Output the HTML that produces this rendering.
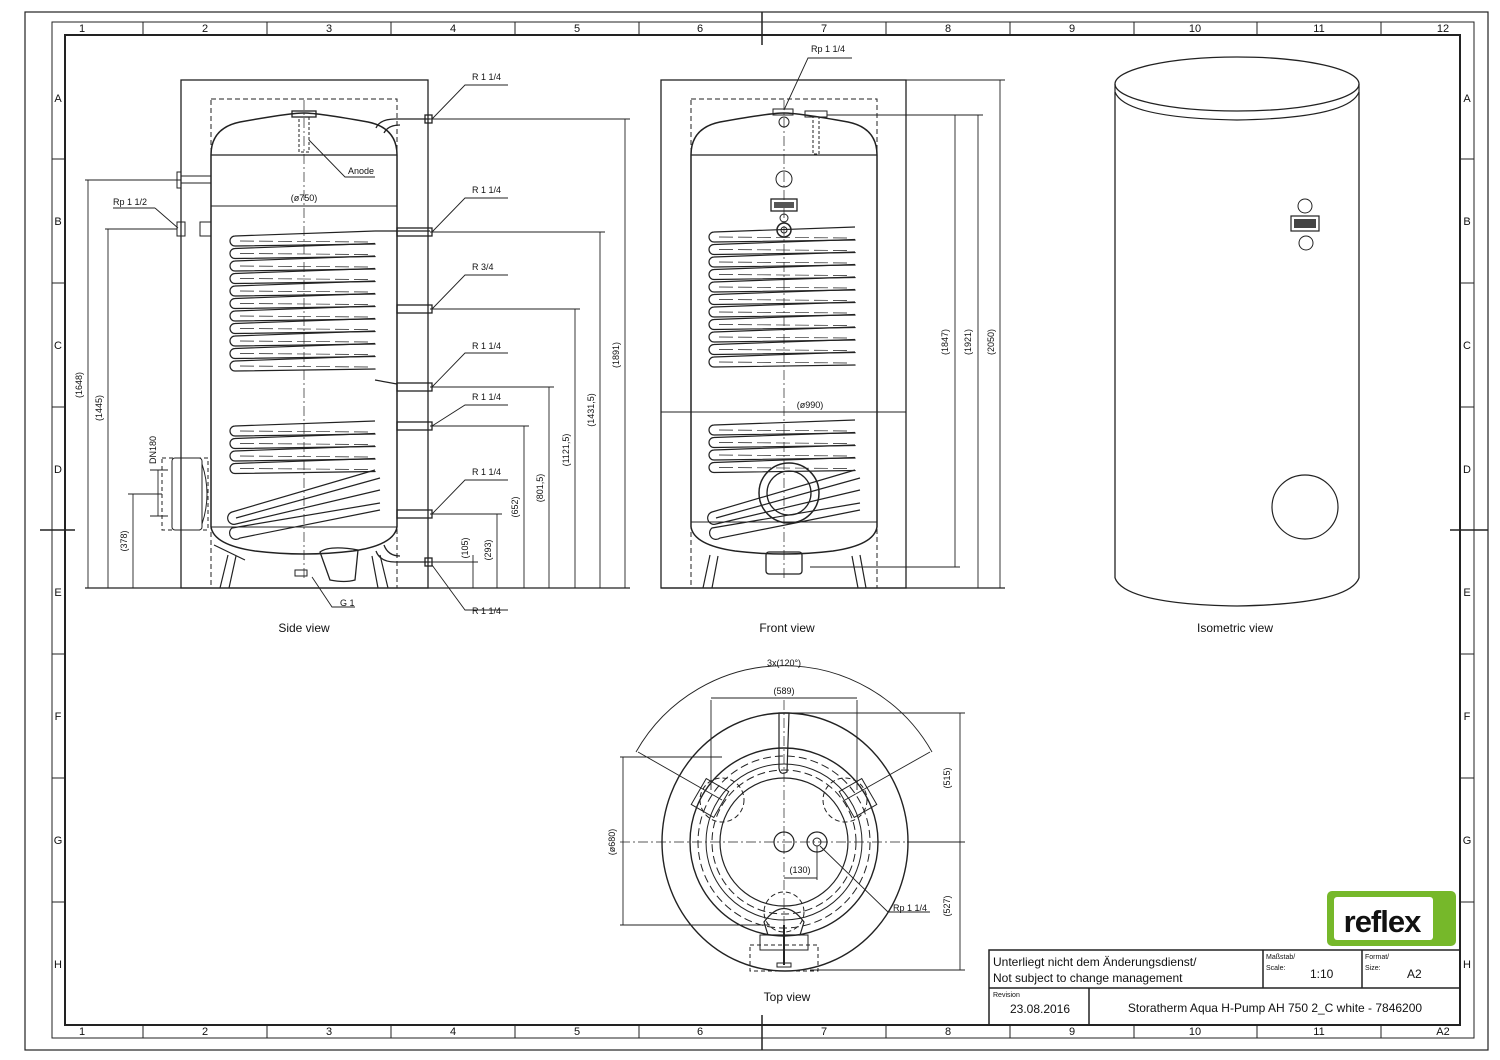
<!DOCTYPE html>
<html><head><meta charset="utf-8"><style>
html,body{margin:0;padding:0;background:#fff}
svg{display:block}
text{font-family:"Liberation Sans",sans-serif;fill:#111}
</style></head><body>
<svg id="s" width="1500" height="1060" viewBox="0 0 1500 1060" xmlns="http://www.w3.org/2000/svg" stroke="#222" fill="none" stroke-width="1">
<!-- borders -->
<rect x="25" y="12" width="1463" height="1038" stroke-width="1.2"/>
<rect x="52" y="22" width="1422" height="1016" stroke-width="1"/>
<rect x="65" y="35" width="1395" height="990" stroke-width="2"/>
<g id="grid"></g>
<g font-size="11" stroke="none">
<text x="82" y="32" text-anchor="middle">1</text><text x="205" y="32" text-anchor="middle">2</text><text x="329" y="32" text-anchor="middle">3</text><text x="453" y="32" text-anchor="middle">4</text><text x="577" y="32" text-anchor="middle">5</text><text x="700" y="32" text-anchor="middle">6</text><text x="824" y="32" text-anchor="middle">7</text><text x="948" y="32" text-anchor="middle">8</text><text x="1072" y="32" text-anchor="middle">9</text><text x="1195" y="32" text-anchor="middle">10</text><text x="1319" y="32" text-anchor="middle">11</text><text x="1443" y="32" text-anchor="middle">12</text>
<text x="82" y="1035" text-anchor="middle">1</text><text x="205" y="1035" text-anchor="middle">2</text><text x="329" y="1035" text-anchor="middle">3</text><text x="453" y="1035" text-anchor="middle">4</text><text x="577" y="1035" text-anchor="middle">5</text><text x="700" y="1035" text-anchor="middle">6</text><text x="824" y="1035" text-anchor="middle">7</text><text x="948" y="1035" text-anchor="middle">8</text><text x="1072" y="1035" text-anchor="middle">9</text><text x="1195" y="1035" text-anchor="middle">10</text><text x="1319" y="1035" text-anchor="middle">11</text><text x="1443" y="1035" text-anchor="middle">A2</text>
<text x="58" y="102" text-anchor="middle">A</text><text x="58" y="225" text-anchor="middle">B</text><text x="58" y="349" text-anchor="middle">C</text><text x="58" y="473" text-anchor="middle">D</text><text x="58" y="596" text-anchor="middle">E</text><text x="58" y="720" text-anchor="middle">F</text><text x="58" y="844" text-anchor="middle">G</text><text x="58" y="968" text-anchor="middle">H</text>
<text x="1467" y="102" text-anchor="middle">A</text><text x="1467" y="225" text-anchor="middle">B</text><text x="1467" y="349" text-anchor="middle">C</text><text x="1467" y="473" text-anchor="middle">D</text><text x="1467" y="596" text-anchor="middle">E</text><text x="1467" y="720" text-anchor="middle">F</text><text x="1467" y="844" text-anchor="middle">G</text><text x="1467" y="968" text-anchor="middle">H</text>
</g>
<!-- center marks -->
<line x1="762" y1="12" x2="762" y2="45" stroke-width="1.5"/><line x1="762" y1="1015" x2="762" y2="1050" stroke-width="1.5"/>
<line x1="40" y1="530" x2="75" y2="530" stroke-width="1.5"/><line x1="1450" y1="530" x2="1488" y2="530" stroke-width="1.5"/>

<!-- ========== SIDE VIEW ========== -->
<line x1="85" y1="588" x2="630" y2="588" stroke-width="1.2"/>
<rect x="181" y="80" width="247" height="508" stroke-width="1.3"/>
<rect x="211" y="99" width="186" height="489" stroke-dasharray="5,3"/>
<path d="M211,155 Q211,128 240,122 Q290,113 304,113 Q318,113 368,122 Q397,128 397,155" stroke-width="1.5"/>
<line x1="211" y1="155" x2="397" y2="155" stroke-width="1.3"/>
<line x1="211" y1="155" x2="211" y2="527" stroke-width="1.5"/><line x1="397" y1="155" x2="397" y2="527" stroke-width="1.5"/>
<path d="M211,527 Q214,545 255,551 Q304,557 353,551 Q394,545 397,527" stroke-width="1.5"/>
<line x1="211" y1="527" x2="397" y2="527"/>
<rect x="292" y="111" width="24" height="6" stroke-width="1.3"/>
<rect x="299" y="117" width="10" height="35" stroke-dasharray="3,2"/>
<line x1="304" y1="100" x2="304" y2="580" stroke-dasharray="10,3,2,3" stroke-width="0.7"/>
<!-- legs -->
<path d="M228,555 L220,588 M236,556 L229,588 M372,556 L378,588 M380,555 L388,588" stroke-width="1.2"/>
<path d="M214,545 L245,560" stroke-width="1.2"/>
<path d="M320,552 Q330,545 358,550 L355,580 Q345,583 330,580 Z" stroke-width="1.3"/>
<rect x="295" y="570" width="12" height="6"/>
<!-- pipes right -->
<g id="pipes" stroke-width="1.3"></g>
<path d="M376,128 Q380,119 395,119 L430,119 M384,133 Q388,125 400,125" stroke-width="1.3"/>
<path d="M384,545 Q388,556 400,556 M376,551 Q380,562 395,562 L430,562" stroke-width="1.3"/>
<!-- left fittings -->
<line x1="150" y1="180" x2="181" y2="180"/><rect x="177" y="172" width="4" height="16"/><line x1="181" y1="176" x2="211" y2="176"/><line x1="181" y1="183" x2="211" y2="183"/>
<rect x="177" y="222" width="8" height="14"/><rect x="200" y="222" width="11" height="14"/>
<rect x="172" y="458" width="30" height="72" rx="3"/>
<rect x="162" y="458" width="46" height="72" stroke-dasharray="4,3"/>
<path d="M202,464 Q212,494 202,524"/>
<!-- side coils -->
<g id="scoil" stroke-width="1.2"></g>
<!-- dims side left -->
<g stroke-width="0.9">
<line x1="85" y1="180" x2="150" y2="180"/><line x1="88" y1="180" x2="88" y2="588"/>
<line x1="105" y1="229" x2="177" y2="229"/><line x1="108" y1="229" x2="108" y2="588"/>
<line x1="128" y1="494" x2="162" y2="494"/><line x1="133" y1="494" x2="133" y2="588"/>
<line x1="150" y1="470" x2="168" y2="470"/><line x1="150" y1="516" x2="168" y2="516"/><line x1="158" y1="470" x2="158" y2="516"/>
<line x1="113" y1="208" x2="155" y2="208"/><line x1="155" y1="208" x2="178" y2="228"/>
</g>
<!-- dims side right -->
<g stroke-width="0.9">
<line x1="430" y1="119" x2="630" y2="119"/><line x1="625" y1="119" x2="625" y2="588"/>
<line x1="430" y1="232" x2="605" y2="232"/><line x1="600" y1="232" x2="600" y2="588"/>
<line x1="430" y1="309" x2="580" y2="309"/><line x1="575" y1="309" x2="575" y2="588"/>
<line x1="430" y1="387" x2="554" y2="387"/><line x1="549" y1="387" x2="549" y2="588"/>
<line x1="430" y1="426" x2="529" y2="426"/><line x1="524" y1="426" x2="524" y2="588"/>
<line x1="430" y1="514" x2="502" y2="514"/><line x1="497" y1="514" x2="497" y2="588"/>
<line x1="430" y1="562" x2="478" y2="562"/><line x1="473" y1="555" x2="473" y2="588"/>
<line x1="211" y1="206" x2="397" y2="206"/>
<!-- leaders -->
<path d="M432,119 L465,85 L508,85"/><path d="M432,232 L465,198 L508,198"/><path d="M432,309 L465,275 L508,275"/>
<path d="M432,387 L465,353 L508,353"/><path d="M432,426 L465,405 L508,405"/><path d="M432,514 L465,480 L508,480"/>
<path d="M432,565 L465,610 L508,610"/>
<path d="M309,140 L345,177 L375,177"/><path d="M312,577 L332,607 L355,607"/>
</g>
<g font-size="9" stroke="none">
<text x="472" y="80">R 1 1/4</text><text x="472" y="193">R 1 1/4</text><text x="472" y="270">R 3/4</text>
<text x="472" y="349">R 1 1/4</text><text x="472" y="400">R 1 1/4</text><text x="472" y="475">R 1 1/4</text><text x="472" y="614">R 1 1/4</text>
<text x="348" y="174">Anode</text><text x="340" y="606">G 1</text>
<text x="113" y="205">Rp 1 1/2</text>
<text x="304" y="201" text-anchor="middle">(ø750)</text>
<text transform="translate(82,385) rotate(-90)" text-anchor="middle">(1648)</text>
<text transform="translate(102,408) rotate(-90)" text-anchor="middle">(1445)</text>
<text transform="translate(127,541) rotate(-90)" text-anchor="middle">(378)</text>
<text transform="translate(156,450) rotate(-90)" text-anchor="middle">DN180</text>
<text transform="translate(619,355) rotate(-90)" text-anchor="middle">(1891)</text>
<text transform="translate(594,410) rotate(-90)" text-anchor="middle">(1431,5)</text>
<text transform="translate(569,450) rotate(-90)" text-anchor="middle">(1121,5)</text>
<text transform="translate(543,488) rotate(-90)" text-anchor="middle">(801,5)</text>
<text transform="translate(518,507) rotate(-90)" text-anchor="middle">(652)</text>
<text transform="translate(491,550) rotate(-90)" text-anchor="middle">(293)</text>
<text transform="translate(468,548) rotate(-90)" text-anchor="middle">(105)</text>
</g>
<text x="304" y="632" font-size="12" text-anchor="middle" stroke="none">Side view</text>

<!-- ========== FRONT VIEW ========== -->
<line x1="661" y1="588" x2="1005" y2="588" stroke-width="1.2"/>
<rect x="661" y="80" width="245" height="508" stroke-width="1.3"/>
<rect x="691" y="99" width="186" height="489" stroke-dasharray="5,3"/>
<path d="M691,155 Q691,128 720,122 Q770,113 784,113 Q798,113 848,122 Q877,128 877,155" stroke-width="1.5"/>
<line x1="691" y1="155" x2="877" y2="155" stroke-width="1.3"/>
<line x1="691" y1="155" x2="691" y2="527" stroke-width="1.5"/><line x1="877" y1="155" x2="877" y2="527" stroke-width="1.5"/>
<path d="M691,527 Q694,545 735,551 Q784,557 833,551 Q874,545 877,527" stroke-width="1.5"/>
<line x1="691" y1="522" x2="877" y2="522"/>
<line x1="784" y1="100" x2="784" y2="580" stroke-dasharray="10,3,2,3" stroke-width="0.7"/>
<rect x="773" y="109" width="20" height="6"/><rect x="805" y="111" width="22" height="6"/>
<rect x="813" y="117" width="6" height="37" stroke-dasharray="3,2"/>
<circle cx="784" cy="122" r="5"/>
<circle cx="784" cy="179" r="8"/>
<rect x="771" y="199" width="26" height="12" stroke-width="1.3"/><rect x="774" y="202" width="20" height="6" fill="#555" stroke="none"/>
<circle cx="784" cy="218" r="4"/><circle cx="784" cy="230" r="7" stroke-width="1.5"/><circle cx="784" cy="230" r="3"/>
<g id="fcoil" stroke-width="1.2"></g>
<circle cx="789" cy="493" r="30" stroke-width="1.5"/><circle cx="789" cy="493" r="22" stroke-width="1.3"/>
<path d="M710,555 L703,588 M718,556 L712,588 M852,556 L858,588 M860,555 L866,588" stroke-width="1.2"/>
<rect x="766" y="552" width="36" height="22" rx="3" stroke-width="1.3"/>
<g stroke-width="0.9">
<line x1="661" y1="412" x2="906" y2="412"/>
<line x1="906" y1="80" x2="1005" y2="80"/><line x1="1000" y1="80" x2="1000" y2="588"/>
<line x1="827" y1="115" x2="983" y2="115"/><line x1="978" y1="115" x2="978" y2="588"/>
<line x1="810" y1="567" x2="960" y2="567"/><line x1="955" y1="115" x2="955" y2="567"/>
<path d="M784,110 L808,58 L852,58"/>
</g>
<g font-size="9" stroke="none">
<text x="811" y="52">Rp 1 1/4</text>
<text x="810" y="408" text-anchor="middle">(ø990)</text>
<text transform="translate(948,342) rotate(-90)" text-anchor="middle">(1847)</text>
<text transform="translate(971,342) rotate(-90)" text-anchor="middle">(1921)</text>
<text transform="translate(994,342) rotate(-90)" text-anchor="middle">(2050)</text>
</g>
<text x="787" y="632" font-size="12" text-anchor="middle" stroke="none">Front view</text>

<!-- ========== ISOMETRIC ========== -->
<ellipse cx="1237" cy="84" rx="122" ry="27" stroke-width="1.3"/>
<path d="M1115,84 L1115,92 Q1125,118 1237,120 Q1349,118 1359,92 L1359,84" stroke-width="1.2"/>
<line x1="1115" y1="92" x2="1115" y2="578" stroke-width="1.3"/><line x1="1359" y1="92" x2="1359" y2="578" stroke-width="1.3"/>
<path d="M1115,578 Q1125,604 1237,606 Q1349,604 1359,578" stroke-width="1.3"/>
<circle cx="1305" cy="206" r="7"/><circle cx="1306" cy="243" r="7"/>
<rect x="1291" y="216" width="28" height="15" stroke-width="1.2"/><rect x="1294" y="219" width="22" height="9" fill="#444" stroke="none"/>
<ellipse cx="1305" cy="507" rx="33" ry="32" stroke-width="1.2"/>
<text x="1235" y="632" font-size="12" text-anchor="middle" stroke="none">Isometric view</text>

<!-- ========== TOP VIEW ========== -->
<ellipse cx="785" cy="842" rx="123" ry="129" stroke-width="1.4"/>
<circle cx="784" cy="842" r="94" stroke-width="1.4"/>
<circle cx="784" cy="842" r="86" stroke-dasharray="8,4"/>
<circle cx="784" cy="842" r="78"/>
<circle cx="784" cy="842" r="72" stroke-dasharray="8,4"/>
<circle cx="784" cy="842" r="64" stroke-width="1.2"/>
<line x1="620" y1="842" x2="960" y2="842" stroke-dasharray="10,3,2,3" stroke-width="0.7"/>
<line x1="784" y1="700" x2="784" y2="940" stroke-dasharray="10,3,2,3" stroke-width="0.7"/>
<circle cx="784" cy="842" r="10" stroke-width="1.2"/>
<circle cx="817" cy="842" r="10" stroke-width="1.2"/><circle cx="817" cy="842" r="4"/>
<path d="M779,713 L779,768 Q780,776 787,772 L789,713 Z" stroke-width="1.2"/>
<circle cx="722" cy="800" r="22" stroke-dasharray="5,3"/><circle cx="845" cy="800" r="22" stroke-dasharray="5,3"/>
<rect x="697" y="783" width="26" height="30" transform="rotate(30 710 798)"/>
<rect x="845" y="783" width="26" height="30" transform="rotate(-30 858 798)"/>
<circle cx="784" cy="912" r="20" stroke-dasharray="5,3"/>
<path d="M764,922 Q784,895 804,922 L800,935 L768,935 Z" stroke-width="1.2"/>
<rect x="760" y="935" width="48" height="15"/>
<rect x="750" y="945" width="68" height="26" stroke-dasharray="4,3"/>
<line x1="784" y1="925" x2="784" y2="965" stroke-width="2"/><rect x="777" y="963" width="14" height="4"/>
<g stroke-width="0.9">
<path d="M636,752 A170,170 0 0 1 932,752"/>
<line x1="638" y1="752" x2="722" y2="800"/><line x1="930" y1="752" x2="845" y2="800"/>
<line x1="711" y1="700" x2="711" y2="790"/><line x1="857" y1="700" x2="857" y2="790"/>
<line x1="711" y1="698" x2="857" y2="698"/>
<line x1="784" y1="713" x2="965" y2="713"/><line x1="960" y1="713" x2="960" y2="970"/>
<line x1="907" y1="842" x2="965" y2="842"/><line x1="810" y1="970" x2="965" y2="970"/>
<line x1="620" y1="757" x2="722" y2="757"/><line x1="620" y1="925" x2="770" y2="925"/><line x1="623" y1="757" x2="623" y2="925"/>
<line x1="784" y1="878" x2="817" y2="878"/><line x1="817" y1="846" x2="817" y2="880"/>
<path d="M820,846 L888,912 L930,912"/>
</g>
<g font-size="9" stroke="none">
<text x="784" y="666" text-anchor="middle">3x(120°)</text>
<text x="784" y="694" text-anchor="middle">(589)</text>
<text x="800" y="873" text-anchor="middle">(130)</text>
<text x="893" y="911">Rp 1 1/4</text>
<text transform="translate(950,778) rotate(-90)" text-anchor="middle">(515)</text>
<text transform="translate(950,906) rotate(-90)" text-anchor="middle">(527)</text>
<text transform="translate(615,842) rotate(-90)" text-anchor="middle">(ø680)</text>
</g>
<text x="787" y="1001" font-size="12" text-anchor="middle" stroke="none">Top view</text>

<!-- ========== LOGO + TITLE ========== -->
<rect x="1327" y="891" width="129" height="55" rx="5" fill="#76b82a" stroke="none"/>
<rect x="1334" y="897" width="99" height="43" rx="3" fill="#fff" stroke="none"/>
<text x="1382" y="932" font-size="31" font-weight="bold" text-anchor="middle" stroke="none" style="letter-spacing:-1px">reflex</text>
<g stroke-width="1.5">
<rect x="989" y="950" width="471" height="75"/>
<line x1="989" y1="988" x2="1460" y2="988"/>
<line x1="1263" y1="950" x2="1263" y2="988"/><line x1="1362" y1="950" x2="1362" y2="988"/>
<line x1="1089" y1="988" x2="1089" y2="1025"/>
</g>
<g stroke="none">
<text x="993" y="966" font-size="12">Unterliegt nicht dem Änderungsdienst/</text>
<text x="993" y="982" font-size="12">Not subject to change management</text>
<text x="1266" y="959" font-size="7">Maßstab/</text><text x="1266" y="970" font-size="7">Scale:</text>
<text x="1310" y="978" font-size="12">1:10</text>
<text x="1365" y="959" font-size="7">Format/</text><text x="1365" y="970" font-size="7">Size:</text>
<text x="1407" y="978" font-size="12">A2</text>
<text x="993" y="997" font-size="7">Revision</text>
<text x="1040" y="1013" font-size="12" text-anchor="middle">23.08.2016</text>
<text x="1275" y="1012" font-size="12" text-anchor="middle">Storatherm Aqua H-Pump AH 750 2_C white - 7846200</text>
</g>
</svg>
<script>
var NS="http://www.w3.org/2000/svg";
function el(p,t,a){var e=document.createElementNS(NS,t);for(var k in a)e.setAttribute(k,a[k]);document.getElementById(p).appendChild(e);return e;}
// grid ticks
[143,267,391,515,639,886,1010,1134,1257,1381].forEach(function(x){el('grid','line',{x1:x,y1:22,x2:x,y2:35});el('grid','line',{x1:x,y1:1025,x2:x,y2:1038});});
[159,283,407,654,778,902].forEach(function(y){el('grid','line',{x1:52,y1:y,x2:65,y2:y});el('grid','line',{x1:1460,y1:y,x2:1474,y2:y});});
// pipes side
[232,309,387,426,514].forEach(function(y){el('pipes','rect',{x:397,y:y-4,width:35,height:8});});
el('pipes','rect',{x:425,y:115,width:7,height:8});el('pipes','rect',{x:425,y:558,width:7,height:8});
function coils(g,x1,x2,y0,n,step){
 for(var i=0;i<n;i++){var y=y0+i*step;
  el(g,'path',{d:'M'+(x2-5)+','+(y-5)+' L'+(x1+5)+','+(y)+' A5,5 0 0 0 '+(x1+5)+','+(y+10)+' L'+(x2-5)+','+(y+8)+' A5,5 0 0 0 '+(x2-5)+','+(y-5+step)});
  el(g,'line',{x1:x1+10,y1:y+5,x2:x2-10,y2:y+6,'stroke-dasharray':'14,5','stroke-width':0.7});
 }}
coils('scoil',230,380,236,11,12.5);
el('scoil','path',{d:'M375,231 L430,231 M375,380 L397,384'});
coils('scoil',230,380,426,4,12.5);
el('scoil','path',{d:'M375,470 L232,512 A5,5 0 0 0 236,524 L380,490 M380,503 L232,528 A5,5 0 0 0 240,538 L380,510 M380,478 L236,518'});
coils('fcoil',709,860,232,11,12.5);
coils('fcoil',709,860,425,4,12.5);
el('fcoil','path',{d:'M855,470 L712,512 A5,5 0 0 0 716,524 L860,490 M860,503 L712,528 A5,5 0 0 0 720,538 L860,510 M860,478 L716,518'});
</script>
</body></html>
